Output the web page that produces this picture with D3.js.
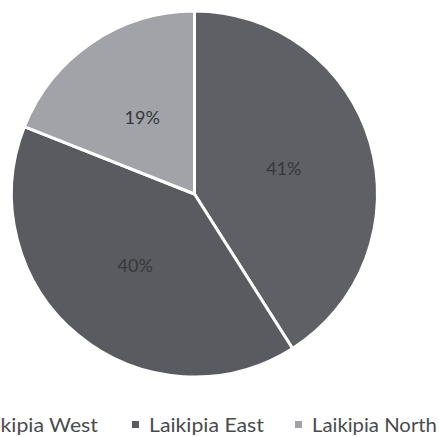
<!DOCTYPE html>
<html>
<head>
<meta charset="utf-8">
<script src="https://cdn.jsdelivr.net/npm/d3@7/dist/d3.min.js"></script>
<style>
  html, body { margin: 0; padding: 0; background: #ffffff; overflow: hidden; }
  svg { display: block; }
</style>
</head>
<body>
<svg id="chart" width="439" height="437"></svg>
<script>
// Share of respondents by sub-county
const categories = ["Laikipia West", "Laikipia East", "Laikipia North"];
const shares = [41, 40, 19];
const colors = ["#5f6065", "#5a5b60", "#a2a3a8"];

const svg = d3.select("#chart");
const W = 439;
const cx = 194.5, cy = 194, radius = 183;

const pie = d3.pie().sort(null).value(d => d.value);
const arcs = pie(categories.map((c, i) => ({ name: c, value: shares[i], color: colors[i] })));

const arc = d3.arc().innerRadius(0).outerRadius(radius);
const labelArc = d3.arc().innerRadius(93).outerRadius(93);

const g = svg.append("g").attr("transform", `translate(${cx},${cy})`);

g.selectAll("path.slice")
  .data(arcs)
  .join("path")
  .attr("class", "slice")
  .attr("d", arc)
  .attr("fill", d => d.data.color)
  .attr("stroke", "#ffffff")
  .attr("stroke-width", 3)
  .attr("stroke-linejoin", "round");

g.selectAll("text.pct")
  .data(arcs)
  .join("text")
  .attr("class", "pct")
  .attr("transform", d => `translate(${labelArc.centroid(d)})`)
  .attr("text-anchor", "middle")
  .attr("dy", "0.36em")
  .attr("font-family", "Lato, 'Open Sans', sans-serif")
  .attr("font-size", 18)
  .attr("fill", "#36373a")
  .text(d => d.data.value + "%");

// Legend row along the bottom; the row is wider than the view, so the first entry
// runs off the left edge. Entries are placed relative to the middle one.
const legendY = 432, markerGap = 17, itemGap = 34, squeeze = 115;
const items = svg.append("g")
  .selectAll("g.item")
  .data(arcs)
  .join("g")
  .attr("class", "item");

items.append("rect")
  .attr("x", 0)
  .attr("y", -11)
  .attr("width", 7)
  .attr("height", 7)
  .attr("fill", d => d.data.color);

const labels = items.append("text")
  .attr("font-family", "Lato, 'Open Sans', sans-serif")
  .attr("font-size", 19.5)
  .attr("fill", "#4a4b4e")
  .text(d => d.data.name);

// narrow the glyphs so the middle entry spans the set width
const natural = labels.nodes().map(n => n.getComputedTextLength());
const k = squeeze / natural[1];

const xs = [];
xs[1] = 132;
xs[2] = 295;
// the last entry must end inside the right edge
const kLast = Math.min(k, (W - 2 - xs[2] - markerGap) / natural[2]);
const ks = [k, k, kLast];
const widths = natural.map((w, i) => w * ks[i]);
xs[0] = xs[1] - itemGap - widths[0] - markerGap;

labels.attr("transform", (d, i) => `translate(${markerGap},0) scale(${ks[i]},1)`);
items.attr("transform", (d, i) => `translate(${xs[i]},${legendY})`);
</script>
</body>
</html>
